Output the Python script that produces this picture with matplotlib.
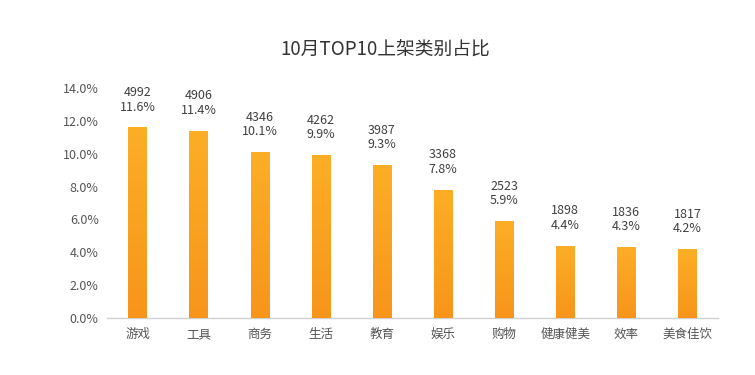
import numpy as np
import matplotlib
matplotlib.use("Agg")
import matplotlib.pyplot as plt
from matplotlib.colors import LinearSegmentedColormap

plt.rcParams['font.family'] = ['Noto Sans CJK SC', 'DejaVu Sans']

categories = ["游戏", "工具", "商务", "生活", "教育", "娱乐", "购物", "健康健美", "效率", "美食佳饮"]
counts = [4992, 4906, 4346, 4262, 3987, 3368, 2523, 1898, 1836, 1817]
shares = [11.6, 11.4, 10.1, 9.9, 9.3, 7.8, 5.9, 4.4, 4.3, 4.2]
yticks = [0, 2, 4, 6, 8, 10, 12, 14]

fig = plt.figure(figsize=(7.55, 3.75), dpi=100)
ax = fig.add_axes([107 / 755, 1 - 318 / 375, 611 / 755, 230 / 375])

x = np.arange(len(categories))
bars = ax.bar(x, shares, width=0.3, color="#FAA21F", zorder=2)

# vertical gradient inside each bar
cmap = LinearSegmentedColormap.from_list("bar", ["#F7951B", "#FCAE26"])
grad = np.linspace(0, 1, 256).reshape(-1, 1)
for b in bars:
    bx, by = b.get_x(), b.get_y()
    w, h = b.get_width(), b.get_height()
    im = ax.imshow(grad, cmap=cmap, origin="lower", aspect="auto",
                   extent=(bx, bx + w, by, by + h), zorder=3)
    im.set_clip_path(b)

for xi, s, c in zip(x, shares, counts):
    ax.annotate(f"{s:.1f}%", (xi, s), xytext=(0, 10), textcoords="offset points",
                ha="center", va="bottom", fontsize=9, color="#404040")
    ax.annotate(f"{c}", (xi, s), xytext=(0, 20.5), textcoords="offset points",
                ha="center", va="bottom", fontsize=9, color="#404040")

ax.set_xlim(-0.5, len(categories) - 0.5)
ax.set_ylim(0, 14)
ax.set_yticks(yticks)
ax.set_yticklabels([f"{v:.1f}%" for v in yticks])
ax.set_xticks(x)
ax.set_xticklabels(categories)
ax.tick_params(axis="both", length=0, labelsize=9, colors="#555555")
ax.tick_params(axis="y", pad=6)
ax.tick_params(axis="x", pad=7)
for side in ["top", "right", "left"]:
    ax.spines[side].set_visible(False)
ax.spines["bottom"].set_color("#D0D0D0")
ax.spines["bottom"].set_linewidth(1)

fig.text(385 / 755, 1 - 50 / 375, "10月TOP10上架类别占比", ha="center", va="center",
         fontsize=13.5, color="#333333")

fig.savefig("out.png", dpi=100)
